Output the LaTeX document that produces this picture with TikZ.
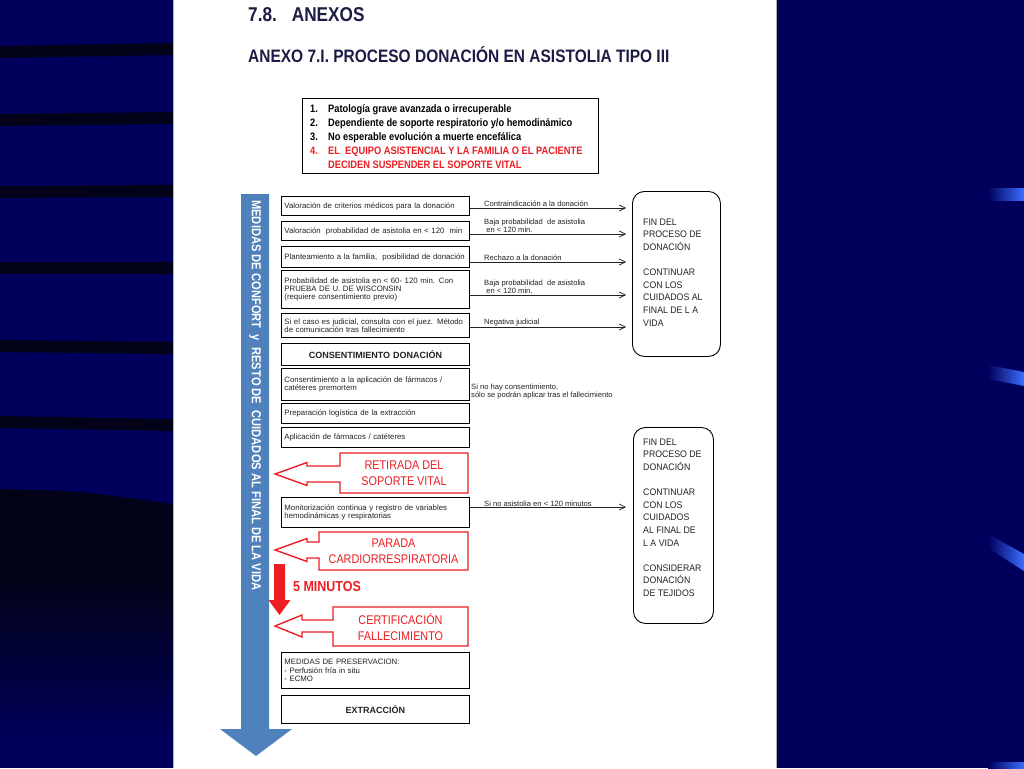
\documentclass[tikz,border=0pt]{standalone}
\usepackage{fontspec}
\setmainfont{Liberation Sans}
\newfontfamily\nar[FakeStretch=0.86]{Liberation Sans}
\newfontfamily\narb[FakeStretch=0.92]{Liberation Sans}
\usetikzlibrary{arrows.meta}
\definecolor{navy}{RGB}{0,0,92}
\definecolor{stripe}{RGB}{2,2,24}
\definecolor{brightblue}{RGB}{60,110,255}
\definecolor{titlecol}{RGB}{28,28,68}
\definecolor{myred}{RGB}{235,30,35}
\definecolor{txtgray}{RGB}{35,35,35}
\definecolor{arrowblue}{RGB}{79,129,189}
\newcommand{\boxfont}{\fontsize{7.8}{8.2}\selectfont}
\newcommand{\boldbox}{\bfseries\fontsize{9}{10}\selectfont}
\newcommand{\lblfont}{\fontsize{7.6}{7.6}\selectfont}
\begin{document}
\begin{tikzpicture}[x=1pt,y=-1pt,
  lbox/.style={draw=black, line width=0.9pt, anchor=north west, text width=182pt,
    inner xsep=3pt, inner ysep=0pt, align=left, font=\boxfont, text=txtgray},
  lbl/.style={inner sep=0pt, align=left, font=\lblfont, text=txtgray},
  arr/.style={line width=0.7pt, draw=txtgray, -{Straight Barb[length=6pt,width=6pt]}},
  endbox/.style={draw=black, line width=0.9pt, rounded corners=12pt, anchor=north west, fill=white},
  endtxt/.style={inner sep=0pt, anchor=north west, align=left,
    font=\narb\fontsize{9.5}{12.6}\selectfont, text=txtgray},
  callout/.style={draw=myred, line width=1.4pt, fill=white, line join=miter},
  ctext/.style={align=center, inner sep=0pt, font=\nar\fontsize{12.6}{16}\selectfont, text=myred}
]
\useasboundingbox (0,0) rectangle (1024,768);
% background slide
\fill[navy] (0,0) rectangle (1024,768);
\foreach \ya/\yb in {52/49, 120/118, 192/191, 268/268, 346/348, 422/425}{
  \fill[stripe] (0,\ya-6) -- (173,\yb-6) -- (173,\yb+6) -- (0,\ya+6) -- cycle;}
\fill[stripe] (0,489) .. controls (80,491) .. (173,504) -- (173,580) -- (0,580) -- cycle;
\shade[top color=stripe, bottom color=navy] (0,579) rectangle (173,745);
\shade[left color=navy, right color=brightblue] (988,188) -- (1024,188) -- (1024,200) -- (988,200) -- cycle;
\shade[left color=navy, right color=brightblue] (988,365) -- (1024,372) -- (1024,386) -- (988,379) -- cycle;
\shade[left color=navy, right color=brightblue] (988,534) -- (1024,554) -- (1024,571) -- (988,548) -- cycle;
\shade[left color=navy, right color=brightblue] (988,762) -- (1024,762) -- (1024,768) -- (988,768) -- cycle;
% page
\fill[white] (173,0) rectangle (776,768);
\draw[gray!60, line width=0.6pt] (173,0) -- (173,768) (776,0) -- (776,768);

% titles
\node[anchor=base west, inner sep=0pt, font=\nar\bfseries\fontsize{20}{24}\selectfont, text=titlecol] (h1) at (248,22) {7.8.\hspace{15pt}ANEXOS};
\node[anchor=base west, inner sep=0pt, font=\nar\bfseries\fontsize{18}{22}\selectfont, text=titlecol] (h2) at (248,63) {ANEXO 7.I. PROCESO DONACIÓN EN ASISTOLIA TIPO III};

% criteria box
\node[draw=black, line width=1pt, anchor=north west, minimum width=296pt, minimum height=75pt] (crit) at (302,98) {};
\node[anchor=west, inner sep=0pt, align=left, font=\nar\bfseries\fontsize{10.8}{14}\selectfont, text=black] (crittext) at (310,136.5)
{\makebox[18pt][l]{1.}Patología grave avanzada o irrecuperable\\
 \makebox[18pt][l]{2.}Dependiente de soporte respiratorio y/o hemodinámico\\
 \makebox[18pt][l]{3.}No esperable evolución a muerte encefálica\\
 \textcolor{myred}{\makebox[18pt][l]{4.}EL\ \ EQUIPO ASISTENCIAL Y LA FAMILIA O EL PACIENTE}\\
 \textcolor{myred}{\hspace*{18pt}DECIDEN SUSPENDER EL SOPORTE VITAL}};

% blue arrow
\fill[arrowblue] (241,194) -- (269,194) -- (269,729) -- (292,729) -- (256,756) -- (220,729) -- (241,729) -- cycle;
\node[rotate=-90, anchor=west, inner sep=0pt, text=white, font=\nar\bfseries\fontsize{13}{15}\selectfont] (bluetxt) at (255,200)
{MEDIDAS DE CONFORT\ \ y\ \ RESTO DE\ \ CUIDADOS AL FINAL DE LA VIDA};

% left boxes
\node[lbox, minimum height=19pt] (b1) at (281,196) {Valoración de criterios médicos para la donación};
\node[lbox, minimum height=19pt] (b2) at (281,221) {Valoración\ \ probabilidad de asistolia en < 120\ \ min};
\node[lbox, minimum height=21pt] (b3) at (281,246) {Planteamiento a la familia,\ \ posibilidad de donación};
\node[lbox, minimum height=38pt] (b4) at (281,270) {Probabilidad de asistolia en < 60- 120 min. Con\\PRUEBA DE U. DE WISCONSIN\\(requiere consentimiento previo)};
\node[lbox, minimum height=24pt] (b5) at (281,313) {Si el caso es judicial, consulta con el juez. Método\\de comunicación tras fallecimiento};
\node[lbox, minimum height=22pt, align=center, font=\boldbox] (b6) at (281,343) {CONSENTIMIENTO DONACIÓN};
\node[lbox, minimum height=32pt] (b7) at (281,368) {Consentimiento a la aplicación de fármacos /\\catéteres premortem};
\node[lbox, minimum height=20pt] (b8) at (281,403) {Preparación logística de la extracción};
\node[lbox, minimum height=20pt] (b9) at (281,427) {Aplicación de fármacos / catéteres};
\node[lbox, minimum height=30pt] (b10) at (281,497) {Monitorización continua y registro de variables\\hemodinámicas y respiratorias};
\node[lbox, minimum height=36pt] (b11) at (281,652) {MEDIDAS DE PRESERVACION:\\- Perfusión fría in situ\\- ECMO};
\node[lbox, minimum height=28pt, align=center, font=\boldbox] (b12) at (281,695) {EXTRACCIÓN};

% end boxes
\node[endbox, minimum width=88pt, minimum height=165pt] (e1) at (632,191) {};
\node[endtxt] (e1t) at (643,218.5) {FIN DEL\\PROCESO DE\\DONACIÓN\\[12.6pt]CONTINUAR\\CON LOS\\CUIDADOS AL\\FINAL DE L A\\VIDA};
\node[endbox, minimum width=80pt, minimum height=196pt] (e2) at (633,427) {};
\node[endtxt] (e2t) at (643,438.5) {FIN DEL\\PROCESO DE\\DONACIÓN\\[12.6pt]CONTINUAR\\CON LOS\\CUIDADOS\\AL FINAL DE\\L A VIDA\\[12.6pt]CONSIDERAR\\DONACIÓN\\DE TEJIDOS};

% side arrows
\coordinate (t1) at (626,208);
\coordinate (t2) at (626,234);
\coordinate (t3) at (626,262);
\coordinate (t4) at (626,295);
\coordinate (t5) at (626,327);
\coordinate (t10) at (626,507);
\draw[arr] (b1.east |- t1) -- (t1);
\draw[arr] (b2.east |- t2) -- (t2);
\draw[arr] (b3.east |- t3) -- (t3);
\draw[arr] (b4.east |- t4) -- (t4);
\draw[arr] (b5.east |- t5) -- (t5);
\draw[arr] (b10.east |- t10) -- (t10);
\node[lbl, anchor=south west] (l1) at (484,206.8) {Contraindicación a la donación};
\node[lbl, anchor=south west] (l2) at (484,232.5) {Baja probabilidad\ \ de asistolia\\\ en < 120 min.};
\node[lbl, anchor=south west] (l3) at (484,260.8) {Rechazo a la donación};
\node[lbl, anchor=south west] (l4) at (484,293.5) {Baja probabilidad\ \ de asistolia\\\ en < 120 min.};
\node[lbl, anchor=south west] (l5) at (484,325.8) {Negativa judicial};
\node[lbl, anchor=south west] (l10) at (484,506.5) {Si no asistolia en < 120 minutos};
\node[lbl, anchor=west] (l6) at (471,391.5) {Si no hay consentimiento,\\sólo se podrán aplicar tras el fallecimiento};

% red callouts
\draw[callout] (340,453) -- (468,453) -- (468,493) -- (340,493) -- (340,482) -- (307,482) -- (307,485.5) -- (275,474) -- (307,462.5) -- (307,466) -- (340,466) -- cycle;
\node[ctext] (c1t) at (404,473.5) {RETIRADA DEL\\SOPORTE VITAL};
\draw[callout] (319,532) -- (468,532) -- (468,570) -- (319,570) -- (319,558) -- (307,558) -- (307,561.5) -- (275,550) -- (307,538.5) -- (307,542) -- (319,542) -- cycle;
\node[ctext] (c2t) at (393.5,551) {PARADA\\CARDIORRESPIRATORIA};
\draw[callout] (333,607) -- (468,607) -- (468,646) -- (333,646) -- (333,632) -- (302,632) -- (302,637) -- (275,626) -- (302,615) -- (302,620) -- (333,620) -- cycle;
\node[ctext] (c3t) at (400.5,627.5) {CERTIFICACIÓN\\FALLECIMIENTO};

% red down arrow and label
\fill[myred] (274,564) -- (285,564) -- (285,600) -- (290.5,600) -- (279.5,615) -- (268.5,600) -- (274,600) -- cycle;
\node[anchor=base west, inner sep=0pt, font=\nar\bfseries\fontsize{14.5}{17}\selectfont, text=myred] (min5) at (293,591) {5 MINUTOS};
\end{tikzpicture}
\end{document}
